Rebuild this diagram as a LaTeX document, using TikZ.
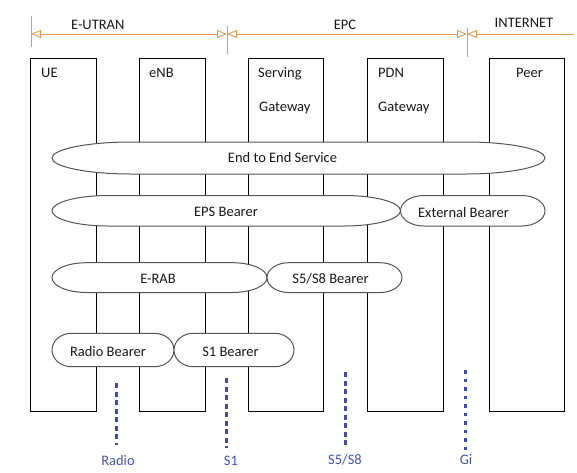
\documentclass[tikz,border=0pt]{standalone}
\usepackage{fontspec}
\setmainfont{Carlito}
\usetikzlibrary{arrows.meta}
\definecolor{orng}{RGB}{228,152,82}
\definecolor{ifblue}{RGB}{70,76,156}
\definecolor{iftext}{RGB}{72,88,166}
\definecolor{bord}{RGB}{85,85,85}
\definecolor{txt}{RGB}{25,25,25}

\newcommand\drawbearer[7]{%
  \pgfmathsetmacro\brx{0.1609*(#3-#2)}%
  \pgfmathsetmacro\bry{(#5-#4)/2}%
  \pgfmathsetmacro\byc{(#4+#5)/2}%
  \draw[bearerline] (#2+\brx,#4) -- (#3-\brx,#4)
     arc[start angle=-90,end angle=90,x radius=\brx,y radius=\bry]
     -- (#2+\brx,#5)
     arc[start angle=90,end angle=270,x radius=\brx,y radius=\bry] -- cycle;
  \node[btext] (#1) at (#6,#7) {\bearertxt};%
}

\begin{document}
\begin{tikzpicture}[x=1pt,y=-1pt,
  box/.style={draw=black, line width=0.9pt, fill=white, anchor=north west,
              inner sep=0pt, outer sep=0pt, minimum height=353pt},
  lbl/.style={font=\fontsize{14.5}{17}\selectfont, text=txt, inner sep=0pt, anchor=base west},
  toplbl/.style={font=\fontsize{14.5}{17}\selectfont, text=txt, inner sep=0pt, anchor=base},
  btext/.style={font=\fontsize{14.5}{17}\selectfont, text=txt, inner sep=0pt, anchor=base},
  bearerline/.style={draw=bord, line width=1pt, fill=white},
  iflbl/.style={font=\fontsize{14.5}{17}\selectfont, text=iftext, inner sep=0pt, anchor=base},
  ifline/.style={draw=ifblue, line width=3pt, dash pattern=on 5pt off 3.5pt},
  gifline/.style={draw=ifblue, line width=3pt, dash pattern=on 3.5pt off 5pt},
  domline/.style={draw=orng, line width=0.9pt}
]
\useasboundingbox (0,0) rectangle (577,472);

% domain arrows
\coordinate (t1) at (31,34);
\coordinate (t2) at (227,34);
\coordinate (t3) at (467,34);
\coordinate (tend) at (574,34);
\coordinate (t1a) at (31,16);  \coordinate (t1b) at (31,47);
\coordinate (t2a) at (227,26); \coordinate (t2b) at (227,54);
\coordinate (t3a) at (467,28); \coordinate (t3b) at (467,57);
\draw[domline] (t1a) -- (t1b);
\draw[domline] (t2a) -- (t2b);
\draw[domline] (t3a) -- (t3b);
\draw[domline, {Triangle[open, length=10pt, width=8pt]}-{Triangle[open, length=10pt, width=8pt]}] (t1) -- (t2);
\draw[domline, {Triangle[open, length=10pt, width=8pt]}-{Triangle[open, length=10pt, width=8pt]}] (t2) -- (t3);
\draw[domline, {Triangle[open, length=10pt, width=8pt]}-] (t3) -- (tend);
\node[toplbl] (eutran) at (97.8,29.3) {E-UTRAN};
\node[toplbl] (epc) at (345,29.3) {EPC};
\node[toplbl] (internet) at (524,27.7) {INTERNET};

% entity boxes
\node[box, minimum width=66pt] (ue) at (30.7,58) {};
\node[box, minimum width=66pt] (enb) at (139,58) {};
\node[box, minimum width=75pt] (sgw) at (248,58) {};
\node[box, minimum width=76pt] (pgw) at (367,58) {};
\node[box, minimum width=75pt] (peer) at (489,58) {};
\node[lbl] (uelbl) at (41,77.3) {UE};
\node[lbl] (enblbl) at (149,77.3) {eNB};
\node[lbl] (sgwlbl1) at (258,77.3) {Serving};
\node[lbl] (sgwlbl2) at (259,111) {Gateway};
\node[lbl] (pgwlbl1) at (378,77.3) {PDN};
\node[lbl] (pgwlbl2) at (378,111) {Gateway};
\node[toplbl] (peerlbl) at (529.5,77.3) {Peer};

% bearers
\def\bearertxt{End to End Service}\drawbearer{e2e}{52}{545}{142}{174}{282.5}{162.7}
\def\bearertxt{EPS Bearer}\drawbearer{eps}{52}{400.5}{195.5}{226}{226}{216.7}
\def\bearertxt{External Bearer}\drawbearer{ext}{400.5}{545}{195.5}{226}{463.5}{217.3}
\def\bearertxt{E-RAB}\drawbearer{erab}{52}{267}{262.7}{292.5}{158}{283.3}
\def\bearertxt{S5/S8 Bearer}\drawbearer{s5b}{267}{402}{262.7}{292.5}{330.5}{283.3}
\def\bearertxt{Radio Bearer}\drawbearer{rb}{52}{174}{333.3}{366.7}{108}{356}
\def\bearertxt{S1 Bearer}\drawbearer{s1b}{174}{294}{333.3}{366.7}{230.5}{356}

% interfaces
\coordinate (ra) at (116,383); \coordinate (rb2) at (116,445);
\coordinate (sa) at (226,378); \coordinate (sb) at (226,448);
\coordinate (s5a) at (345,372); \coordinate (s5b2) at (345,448);
\coordinate (ga) at (465,370); \coordinate (gb) at (465,450);
\draw[ifline] (ra) -- (rb2);
\draw[ifline] (sa) -- (sb);
\draw[ifline] (s5a) -- (s5b2);
\draw[gifline] (ga) -- (gb);
\node[iflbl] (radiolbl) at (118,465) {Radio};
\node[iflbl] (s1lbl) at (231,465) {S1};
\node[iflbl] (s5lbl) at (345,464) {S5/S8};
\node[iflbl] (gilbl) at (466,464.3) {Gi};
\end{tikzpicture}
\end{document}
